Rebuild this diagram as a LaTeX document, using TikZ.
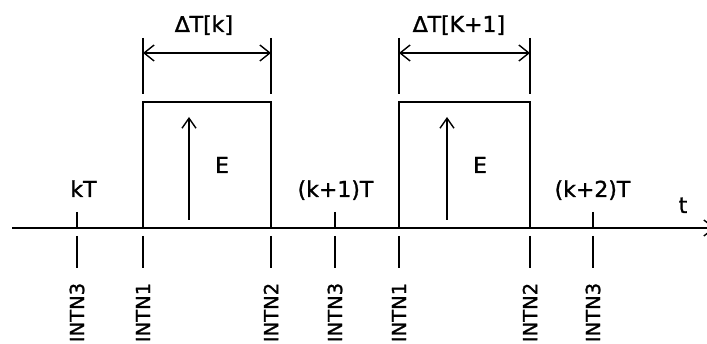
\documentclass[tikz,border=0pt]{standalone}
\usepackage{fontspec}
\setmainfont{DejaVu Sans}
\newfontfamily\cadfont{DejaVu Sans}[FakeBold=1.3]
\usetikzlibrary{arrows.meta}
\begin{document}
\begin{tikzpicture}[x=1pt,y=-1pt,line width=1.7pt,
  lbl/.style={font=\cadfont\fontsize{22}{24}\selectfont, inner sep=0pt, anchor=base},
  vlbl/.style={font=\cadfont\fontsize{19.5}{22}\selectfont, inner sep=0pt, rotate=90, anchor=east},
  barbtip/.style={-{Straight Barb[length=10pt,width=16pt,line width=1.4pt]}},
  dimtip/.style={{Straight Barb[length=10pt,width=16pt,line width=1.4pt]}-{Straight Barb[length=10pt,width=16pt,line width=1.4pt]}},
  uptip/.style={-{Straight Barb[length=10pt,width=14pt,line width=1.4pt]}}]
\useasboundingbox (0,0) rectangle (707,344);
\clip (0,0) rectangle (707,344);
% axis
\coordinate (ax0) at (12,228);
\coordinate (ax1) at (715,228);
\draw[barbtip] (ax0) -- (ax1);
\node[lbl] (t) at (683,213) {t};
% pulses
\coordinate (p1a) at (143,228); \coordinate (p1b) at (143,102);
\coordinate (p1c) at (271,102); \coordinate (p1d) at (271,228);
\draw (p1a) -- (p1b) -- (p1c) -- (p1d);
\coordinate (p2a) at (399,228); \coordinate (p2b) at (399,102);
\coordinate (p2c) at (530,102); \coordinate (p2d) at (530,228);
\draw (p2a) -- (p2b) -- (p2c) -- (p2d);
% amplitude arrows
\coordinate (e1a) at (189,220); \coordinate (e1b) at (189,117);
\draw[uptip] (e1a) -- (e1b);
\node[lbl] (E1) at (222,173) {E};
\coordinate (e2a) at (447,220); \coordinate (e2b) at (447,117);
\draw[uptip] (e2a) -- (e2b);
\node[lbl] (E2) at (480,173) {E};
% dimensions
\foreach \x/\n in {143/d1a,271/d1b,399/d2a,530/d2b}{
  \coordinate (\n top) at (\x,38); \coordinate (\n bot) at (\x,94);
  \coordinate (\n mid) at (\x,53);
  \draw (\n top) -- (\n bot);
}
\draw[dimtip] (d1amid) -- (d1bmid);
\draw[dimtip] (d2amid) -- (d2bmid);
\node[lbl] (dT1) at (204,32) {∆T[k]};
\node[lbl] (dT2) at (459,32) {∆T[K+1]};
% sample ticks above axis
\foreach \x/\n in {77/s0,335/s1,593/s2}{
  \coordinate (\n a) at (\x,212); \coordinate (\n b) at (\x,228);
  \draw (\n a) -- (\n b);
}
\node[lbl] (kT) at (83.5,197) {kT};
\node[lbl] (k1T) at (335.5,197) {(k+1)T};
\node[lbl] (k2T) at (592.5,197) {(k+2)T};
% ticks below axis with labels
\foreach \x/\n/\txt in {77/i0/INTN3,143/i1/INTN1,271/i2/INTN2,335/i3/INTN3,399/i4/INTN1,530/i5/INTN2,593/i6/INTN3}{
  \coordinate (\n a) at (\x,236); \coordinate (\n b) at (\x,268);
  \draw (\n a) -- (\n b);
  \node[vlbl] (\n lbl) at (\x,282) {\txt};
}
\end{tikzpicture}
\end{document}
